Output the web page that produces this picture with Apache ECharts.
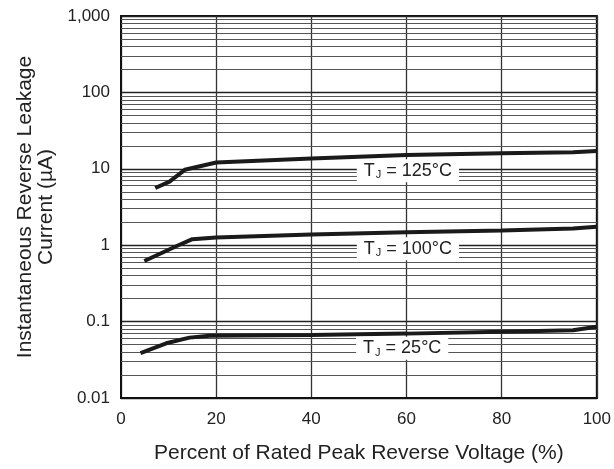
<!DOCTYPE html>
<html style="height: 100%">
<head>
    <meta charset="utf-8">
    <title>Reverse Leakage Current</title>
</head>
<body style="height: 100%; margin: 0; background: #fff">
<div id="container" style="width: 614px; height: 469px"></div>
<script type="text/javascript" src="https://cdn.jsdelivr.net/npm/echarts@6/dist/echarts.min.js"></script>
<script type="text/javascript">
// curves (x = % of rated voltage, y = uA)
var x125 = [7.2, 10.2, 13.4, 20, 40, 60, 80, 95, 100];
var y125 = [5.6, 6.8, 9.7, 12.1, 13.6, 15.2, 16.0, 16.5, 17.1];
var x100 = [4.9, 11.6, 15, 20, 40, 60, 80, 95, 100];
var y100 = [0.62, 0.97, 1.2, 1.26, 1.38, 1.48, 1.56, 1.65, 1.75];
var x25 = [4.1, 9.5, 14.4, 18.6, 40, 60, 80, 95, 100];
var y25 = [0.0386, 0.052, 0.0617, 0.0655, 0.0667, 0.0696, 0.0738, 0.077, 0.0858];

var labelTemps = ['125°C', '100°C', '25°C'];
var labelX = [60.3, 60.3, 59.1];
var labelY = [9.4, 0.9, 0.0448];

var xTicks = [0, 20, 40, 60, 80, 100];
var yTicks = ['0.01', '0.1', '1', '10', '100', '1,000'];
var decades = [0.01, 0.1, 1, 10, 100];
var minorSteps = [2, 3, 4, 5, 6, 7, 8, 9];

function pairs(xs, ys) {
    var out = [];
    for (var i = 0; i < xs.length; i++) out.push([xs[i], ys[i]]);
    return out;
}

// minor log grid lines drawn as markLines through the y axis
var minorLines = [];
for (var d = 0; d < decades.length; d++) {
    for (var m = 0; m < minorSteps.length; m++) {
        minorLines.push({yAxis: decades[d] * minorSteps[m]});
    }
}

var fontFam = 'Liberation Sans, Arial, sans-serif';
var myChart = echarts.init(document.getElementById('container'));

var curveStyle = {color: '#1a1a1a', width: 4};

var option = {
    animation: false,
    grid: {
        left: 121, right: 14, top: 16, bottom: 69,
        show: true, borderColor: '#111', borderWidth: 2
    },
    xAxis: {
        type: 'value', min: 0, max: 100, interval: 20,
        name: 'Percent of Rated Peak Reverse Voltage (%)',
        nameLocation: 'middle', nameGap: 45,
        nameTextStyle: {fontFamily: fontFam, fontSize: 21, color: '#222'},
        axisLine: {lineStyle: {color: '#111', width: 2}},
        axisTick: {show: false},
        axisLabel: {
            fontFamily: fontFam, fontSize: 17, color: '#222', margin: 13,
            formatter: function (v) { return xTicks.indexOf(v) >= 0 ? String(v) : ''; }
        },
        splitLine: {show: true, lineStyle: {color: '#333', width: 1.3}}
    },
    yAxis: {
        type: 'log', logBase: 10, min: 0.01, max: 1000,
        name: 'Instantaneous Reverse Leakage\nCurrent (\u00b5A)',
        nameLocation: 'middle', nameGap: 64,
        nameTextStyle: {fontFamily: fontFam, fontSize: 21, color: '#222', lineHeight: 21},
        axisLine: {show: true, lineStyle: {color: '#111', width: 2}},
        axisTick: {show: false},
        axisLabel: {
            fontFamily: fontFam, fontSize: 17, color: '#222', margin: 11,
            formatter: function (v) {
                var i = Math.round(Math.log10(v)) + 2;
                return yTicks[i];
            }
        },
        splitLine: {show: true, lineStyle: {color: '#222', width: 1.3}}
    },
    series: [
        {
            type: 'line', data: pairs(x125, y125), showSymbol: false,
            lineStyle: curveStyle, z: 5,
            markLine: {
                silent: true, symbol: 'none', label: {show: false},
                lineStyle: {color: '#555', width: 1, type: 'solid'},
                data: minorLines, z: 1
            }
        },
        {type: 'line', data: pairs(x100, y100), showSymbol: false, lineStyle: curveStyle, z: 5},
        {type: 'line', data: pairs(x25, y25), showSymbol: false, lineStyle: curveStyle, z: 5},
        {
            type: 'scatter', symbolSize: 0, z: 6,
            itemStyle: {opacity: 1},
            data: labelTemps.map(function (t, i) { return {value: [labelX[i], labelY[i]], name: t}; }),
            label: {
                show: true, position: 'inside',
                backgroundColor: '#fff', padding: [1, 7, 1, 7],
                formatter: function (p) { return '{a|T}{s|J}{a| = ' + p.name + '}'; },
                rich: {
                    a: {fontFamily: fontFam, fontSize: 18, color: '#222', lineHeight: 21},
                    s: {fontFamily: fontFam, fontSize: 11, color: '#222', padding: [9, 0, 0, 1]}
                }
            }
        }
    ]
};
myChart.setOption(option);
</script>
</body>
</html>
